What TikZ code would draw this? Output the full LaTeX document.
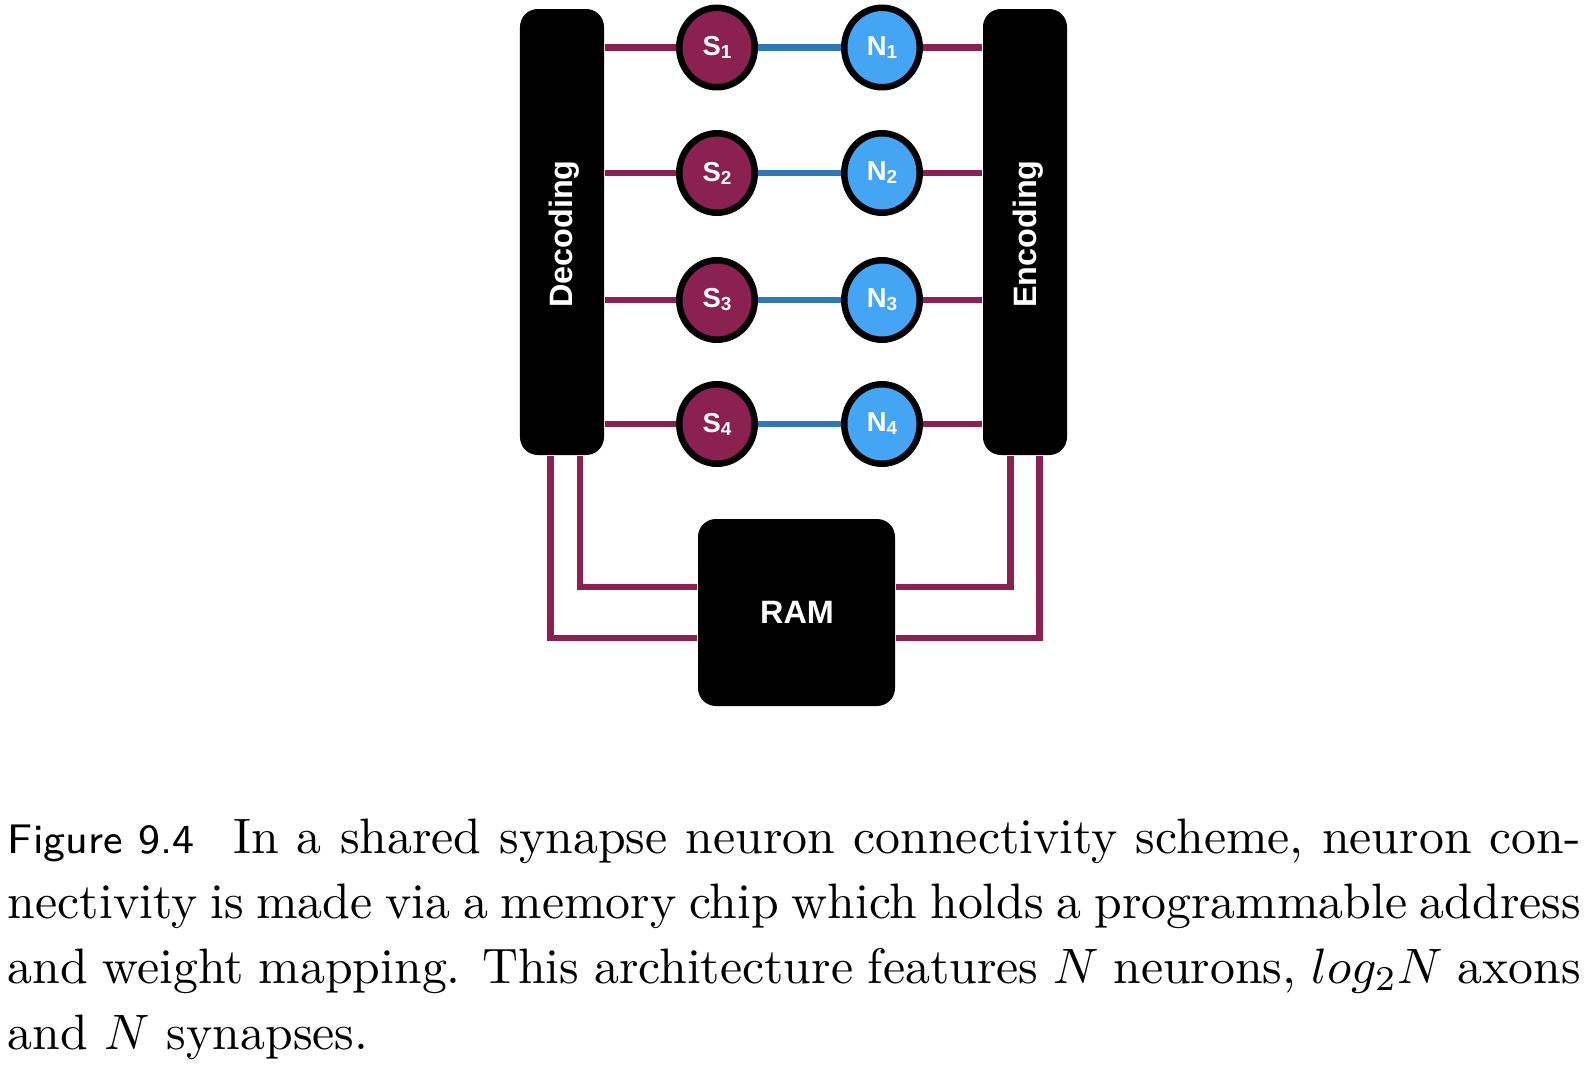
\documentclass[tikz,border=0pt]{standalone}
\usepackage{fontspec}
\newfontfamily\diagfont{Liberation Sans}
\usetikzlibrary{shapes.geometric,backgrounds}
\definecolor{wirered}{HTML}{8B2150}
\definecolor{synfill}{HTML}{8B2150}
\definecolor{neufill}{HTML}{45A5F5}
\definecolor{axblue}{HTML}{2E78B7}
\newlength\capw
\setlength\capw{315.9pt}
\hfuzz=60pt
\begin{document}
\begin{tikzpicture}[x=0.2008pt, y=-0.2008pt,
  blk/.style={fill=black, rounded corners=3.6pt, inner sep=0pt, draw=none},
  wire/.style={draw=wirered, line width=1.3pt},
  bwire/.style={draw=axblue, line width=1.3pt},
  cell/.style={ellipse, draw=black, line width=1.3pt, inner sep=0pt,
     minimum width=15.16pt, minimum height=15.96pt, text=white,
     font=\diagfont\bfseries\fontsize{5.5}{6}\selectfont},
  syn/.style={cell, fill=synfill},
  neu/.style={cell, fill=neufill},
  blabel/.style={text=white, inner sep=0pt, font=\diagfont\bfseries\fontsize{6.5}{7}\selectfont},
  capline/.style={anchor=base west, inner sep=0pt, font=\fontsize{10}{13}\selectfont}
]
\useasboundingbox (0,0) rectangle (1589,1066);

% boxes
\node[blk, minimum width=16.87pt, minimum height=89.56pt] (dec) at (562,232) {};
\node[blk, minimum width=16.87pt, minimum height=89.56pt] (enc) at (1025,232) {};
\node[blk, minimum width=39.56pt, minimum height=37.55pt] (ram) at (796.5,612.5) {};
\node[blabel, rotate=90] (declab) at (564,234) {Decoding};
\node[blabel, rotate=90] (enclab) at (1028,234) {Encoding};
\node[blabel] (ramlab) at (797,612) {RAM};

% cells
\newcommand\cellsub[2]{#1\raisebox{-0.6pt}{\fontsize{3.8}{4}\selectfont #2}}
\foreach \i/\yy in {1/47.5, 2/173, 3/300, 4/424} {
  \node[syn] (S\i) at (717,\yy) {\cellsub{S}{\i}};
  \node[neu] (N\i) at (882,\yy) {\cellsub{N}{\i}};
}

% connectors
\coordinate (dlo) at (550.5,638);
\coordinate (dli) at (580,587);
\coordinate (eri) at (1010.5,587);
\coordinate (ero) at (1039.5,638);
\begin{pgfonlayer}{background}
\foreach \i in {1,2,3,4} {
  \draw[wire] (S\i.center -| dec.east) -- (S\i.center);
  \draw[bwire] (S\i.center) -- (N\i.center);
  \draw[wire] (N\i.center) -- (N\i.center -| enc.west);
}
\draw[wire] (dec.south -| dlo) |- (ram.west |- dlo);
\draw[wire] (dec.south -| dli) |- (ram.west |- dli);
\draw[wire] (enc.south -| eri) |- (ram.east |- eri);
\draw[wire] (enc.south -| ero) |- (ram.east |- ero);
\end{pgfonlayer}

% caption
\node[capline] (cap1) at (7,853) {\hbox to \capw{{\sffamily\fontsize{8.3}{10}\selectfont Figure 9.4}\hskip 7.7pt In a shared synapse neuron connectivity scheme, neuron con-}};
\node[capline] (cap2) at (7,918) {\hbox to \capw{nectivity is made via a memory chip which holds a programmable address}};
\node[capline] (cap3) at (7,983.5) {\hbox to \capw{and weight mapping. This architecture features $N$ neurons, $log_2N$ axons}};
\node[capline] (cap4) at (7,1049) {and $N$ synapses.};
\end{tikzpicture}
\end{document}
